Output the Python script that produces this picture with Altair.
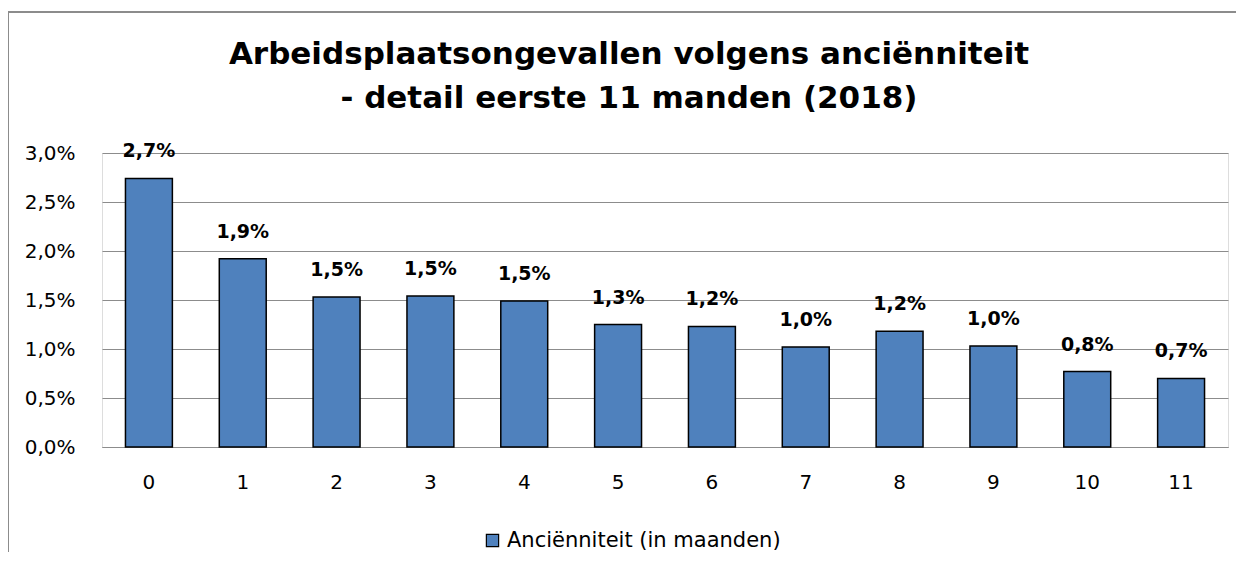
import altair as alt
import pandas as pd

months = ["0", "1", "2", "3", "4", "5", "6", "7", "8", "9", "10", "11"]
values = [0.0274, 0.0192, 0.0153, 0.0154, 0.0149, 0.0125, 0.0123, 0.0102, 0.0118, 0.0103, 0.0077, 0.0070]
labels = ["2,7%", "1,9%", "1,5%", "1,5%", "1,5%", "1,3%", "1,2%", "1,0%", "1,2%", "1,0%", "0,8%", "0,7%"]
y_ticks = [0, 0.005, 0.01, 0.015, 0.02, 0.025, 0.03]
series = "Anciënniteit (in maanden)"

df = pd.DataFrame({"month": months, "value": values, "label": labels, "series": series})
frame_df = pd.DataFrame({"edge": ["frame"]})

W, H = 1126, 294
FONT = "DejaVu Sans"

x_enc = alt.X("month:N", sort=months, title=None,
              scale=alt.Scale(paddingInner=0.5, paddingOuter=0.25),
              axis=alt.Axis(labelAngle=0, ticks=False, domain=True, domainColor="#8c8c8c",
                            domainWidth=1.2, labelFontSize=20, labelFont=FONT,
                            labelColor="#000000", labelPadding=25, grid=False))
y_enc = alt.Y("value:Q", title=None,
              scale=alt.Scale(domain=[0, 0.03], nice=False),
              axis=alt.Axis(values=y_ticks, labelExpr="replace(format(datum.value, '.1%'), '.', ',')",
                            ticks=False, domain=False, grid=True, gridColor="#8c8c8c",
                            gridWidth=1.2, labelFontSize=20, labelFont=FONT,
                            labelColor="#000000", labelPadding=27))

frame_top = alt.Chart(frame_df).mark_rule(stroke="#8c8c8c", strokeWidth=2).encode(
    x=alt.value(-94), x2=alt.value(W + 300), y=alt.value(-141)
)
frame_left = alt.Chart(frame_df).mark_rule(stroke="#8c8c8c", strokeWidth=2).encode(
    x=alt.value(-94), y=alt.value(-141), y2=alt.value(H + 300)
)

bars = alt.Chart(df).mark_bar(stroke="#000000", strokeWidth=1.5, color="#4F81BD").encode(
    x=x_enc,
    y=y_enc,
    color=alt.Color("series:N", scale=alt.Scale(range=["#4F81BD"]),
                    legend=alt.Legend(title=None, orient="none", legendX=380, legendY=377,
                                      symbolType="square", symbolSize=150,
                                      symbolStrokeColor="#000000", symbolStrokeWidth=1.2,
                                      labelFontSize=21, labelFont=FONT, labelColor="#000000",
                                      labelLimit=400, labelOffset=4)),
)

text = alt.Chart(df).mark_text(baseline="bottom", dy=-17, fontSize=19, fontWeight="bold",
                               font=FONT, color="#000000").encode(
    x=alt.X("month:N", sort=months),
    y=alt.Y("value:Q"),
    text="label:N",
)

chart = alt.layer(frame_top, frame_left, bars, text).properties(
    width=W,
    height=H,
    title=alt.TitleParams(
        text=["Arbeidsplaatsongevallen volgens anciënniteit", "- detail eerste 11 manden (2018)"],
        fontSize=31, font=FONT, fontWeight="bold", color="#000000",
        anchor="middle", dx=-36, offset=-104, lineHeight=44,
    ),
    autosize=alt.AutoSizeParams(type="none"),
    padding={"left": 94, "top": 145, "right": 8, "bottom": 105},
).configure_view(stroke=None, strokeWidth=0).configure(background="white")

chart.save("out.html", embed_options={"renderer": "svg", "actions": False})
